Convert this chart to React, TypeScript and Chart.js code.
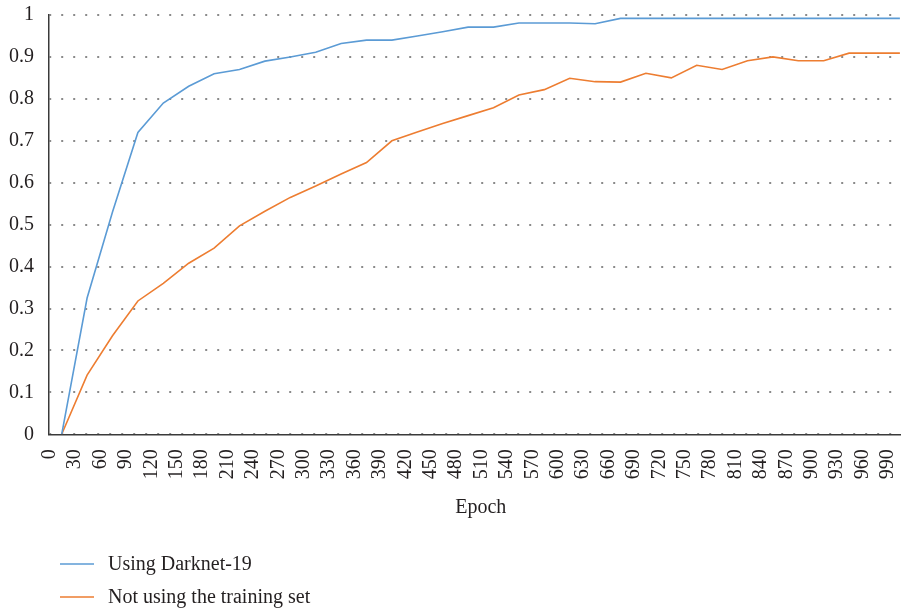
import React, { useEffect, useRef } from "react";
import { Chart, registerables } from "chart.js";

Chart.register(...registerables);

const epochs = [
  "0", "30", "60", "90", "120", "150", "180", "210", "240", "270", "300", "330",
  "360", "390", "420", "450", "480", "510", "540", "570", "600", "630", "660", "690",
  "720", "750", "780", "810", "840", "870", "900", "930", "960", "990",
];

const darknet19 = [
  0, 0.325, 0.53, 0.72, 0.79, 0.83, 0.86, 0.87, 0.89, 0.9, 0.911, 0.932,
  0.94, 0.94, 0.95, 0.96, 0.971, 0.971, 0.981, 0.981, 0.981, 0.979, 0.992, 0.992,
  0.992, 0.992, 0.992, 0.992, 0.992, 0.992, 0.992, 0.992, 0.992, 0.992,
];

const noTrainingSet = [
  0, 0.141, 0.235, 0.318, 0.36, 0.408, 0.444, 0.497, 0.532, 0.565, 0.592, 0.621,
  0.648, 0.7, 0.721, 0.741, 0.76, 0.779, 0.809, 0.822, 0.849, 0.841, 0.84, 0.861,
  0.85, 0.88, 0.87, 0.891, 0.9, 0.891, 0.891, 0.909, 0.909, 0.909,
];

const seriesLabels = ["Using Darknet-19", "Not using the training set"];
const seriesColors = ["#5b9bd5", "#ed7d31"];
const xTitle = "Epoch";

const FONT = "'Liberation Serif', 'Times New Roman', serif";
const TEXT = "#231f20";

const legendPlugin = {
  id: "bottomListLegend",
  afterDraw(chart: any) {
    const ctx = chart.ctx;
    ctx.save();
    chart.data.datasets.forEach((ds: any, i: number) => {
      const y = 564 + i * 33;
      ctx.strokeStyle = ds.borderColor;
      ctx.lineWidth = 1.5;
      ctx.beginPath();
      ctx.moveTo(60, y);
      ctx.lineTo(94, y);
      ctx.stroke();
      ctx.fillStyle = TEXT;
      ctx.font = `20px ${FONT}`;
      ctx.textBaseline = "alphabetic";
      ctx.textAlign = "left";
      ctx.fillText(ds.label, 108, y + 6);
    });
    ctx.restore();
  },
};

export default function App() {
  const ref = useRef<HTMLCanvasElement>(null);

  useEffect(() => {
    if (!ref.current) return;
    const chart = new Chart(ref.current, {
      type: "line",
      data: {
        labels: epochs,
        datasets: [
          {
            label: seriesLabels[0],
            data: darknet19,
            borderColor: seriesColors[0],
            backgroundColor: seriesColors[0],
            borderWidth: 1.6,
            pointRadius: 0,
            tension: 0,
          },
          {
            label: seriesLabels[1],
            data: noTrainingSet,
            borderColor: seriesColors[1],
            backgroundColor: seriesColors[1],
            borderWidth: 1.6,
            pointRadius: 0,
            tension: 0,
          },
        ],
      },
      options: {
        animation: false,
        responsive: false,
        events: [],
        layout: { padding: { left: 0, right: 2.4, top: 15, bottom: 70 } },
        plugins: {
          legend: { display: false },
          tooltip: { enabled: false },
        },
        scales: {
          x: {
            type: "category",
            offset: true,
            grid: { drawOnChartArea: false, drawTicks: false },
            border: { display: true, color: "#3a3a3a", width: 1.5 },
            ticks: {
              autoSkip: false,
              maxRotation: 90,
              minRotation: 90,
              padding: 15,
              labelOffset: -12,
              color: TEXT,
              font: { family: FONT, size: 20 },
            },
            title: {
              display: true,
              text: xTitle,
              color: TEXT,
              font: { family: FONT, size: 20 },
              padding: { top: 0, bottom: 19 },
            },
            afterFit(scale: any) {
              scale.height = 104.7;
              scale.paddingLeft = 0;
              scale.paddingRight = 0;
            },
          },
          y: {
            min: 0,
            max: 1,
            grid: { color: "#8a8a8a", lineWidth: 2, drawTicks: false },
            border: { display: true, color: "#3a3a3a", width: 1.5, dash: [2, 10], dashOffset: 0.3 },
            ticks: {
              stepSize: 0.1,
              padding: 15,
              color: TEXT,
              font: { family: FONT, size: 20 },
              callback: (v: any) => String(Number(Number(v).toFixed(1))),
            },
            afterFit(scale: any) {
              scale.width = 49;
              scale.paddingTop = 0;
              scale.paddingBottom = 0;
            },
          },
        },
      },
      plugins: [legendPlugin],
    });
    return () => chart.destroy();
  }, []);

  return (
    <div
      style={{
        position: "fixed",
        left: 0,
        top: 0,
        width: 901,
        height: 609,
        overflow: "hidden",
        background: "#ffffff",
      }}
    >
      <canvas ref={ref} width={915} height={609} style={{ display: "block" }} />
    </div>
  );
}
